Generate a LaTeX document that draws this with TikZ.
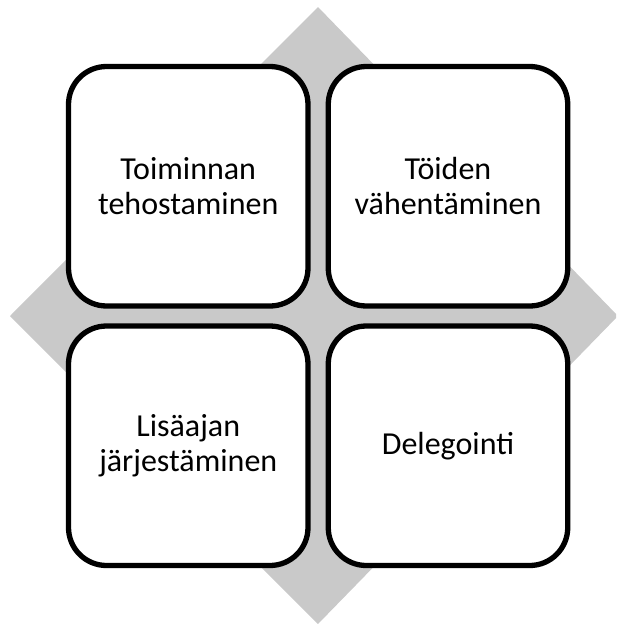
\documentclass[tikz,border=0pt]{standalone}
\usepackage{fontspec}
\setmainfont{Carlito}
\definecolor{diamondgray}{RGB}{201, 201, 201}

\begin{document}
\begin{tikzpicture}[x=1pt, y=-1pt,
  box/.style={rectangle, draw=black, line width=5.3pt, fill=white,
    rounded corners=38pt, minimum width=239.5pt, minimum height=239.5pt,
    align=center, font=\fontsize{32}{35}\selectfont}]
\useasboundingbox (0,0) rectangle (616,624);
\clip (0,0) rectangle (616,624);

% Background diamond
\fill[diamondgray] (318,7) -- (618,316) -- (318,624) -- (10,316) -- cycle;

% Four rounded boxes
\node[box] (tehostus) at (188.25,186.25) {Toiminnan\\tehostaminen};
\node[box] (vahennys) at (448,186.25) {Töiden\\vähentäminen};
\node[box] (lisaaika) at (188.25,445.75) {Lisäajan\\järjestäminen};
\node[box] (delegointi) at (448,445.75) {Delegointi};

\end{tikzpicture}
\end{document}
